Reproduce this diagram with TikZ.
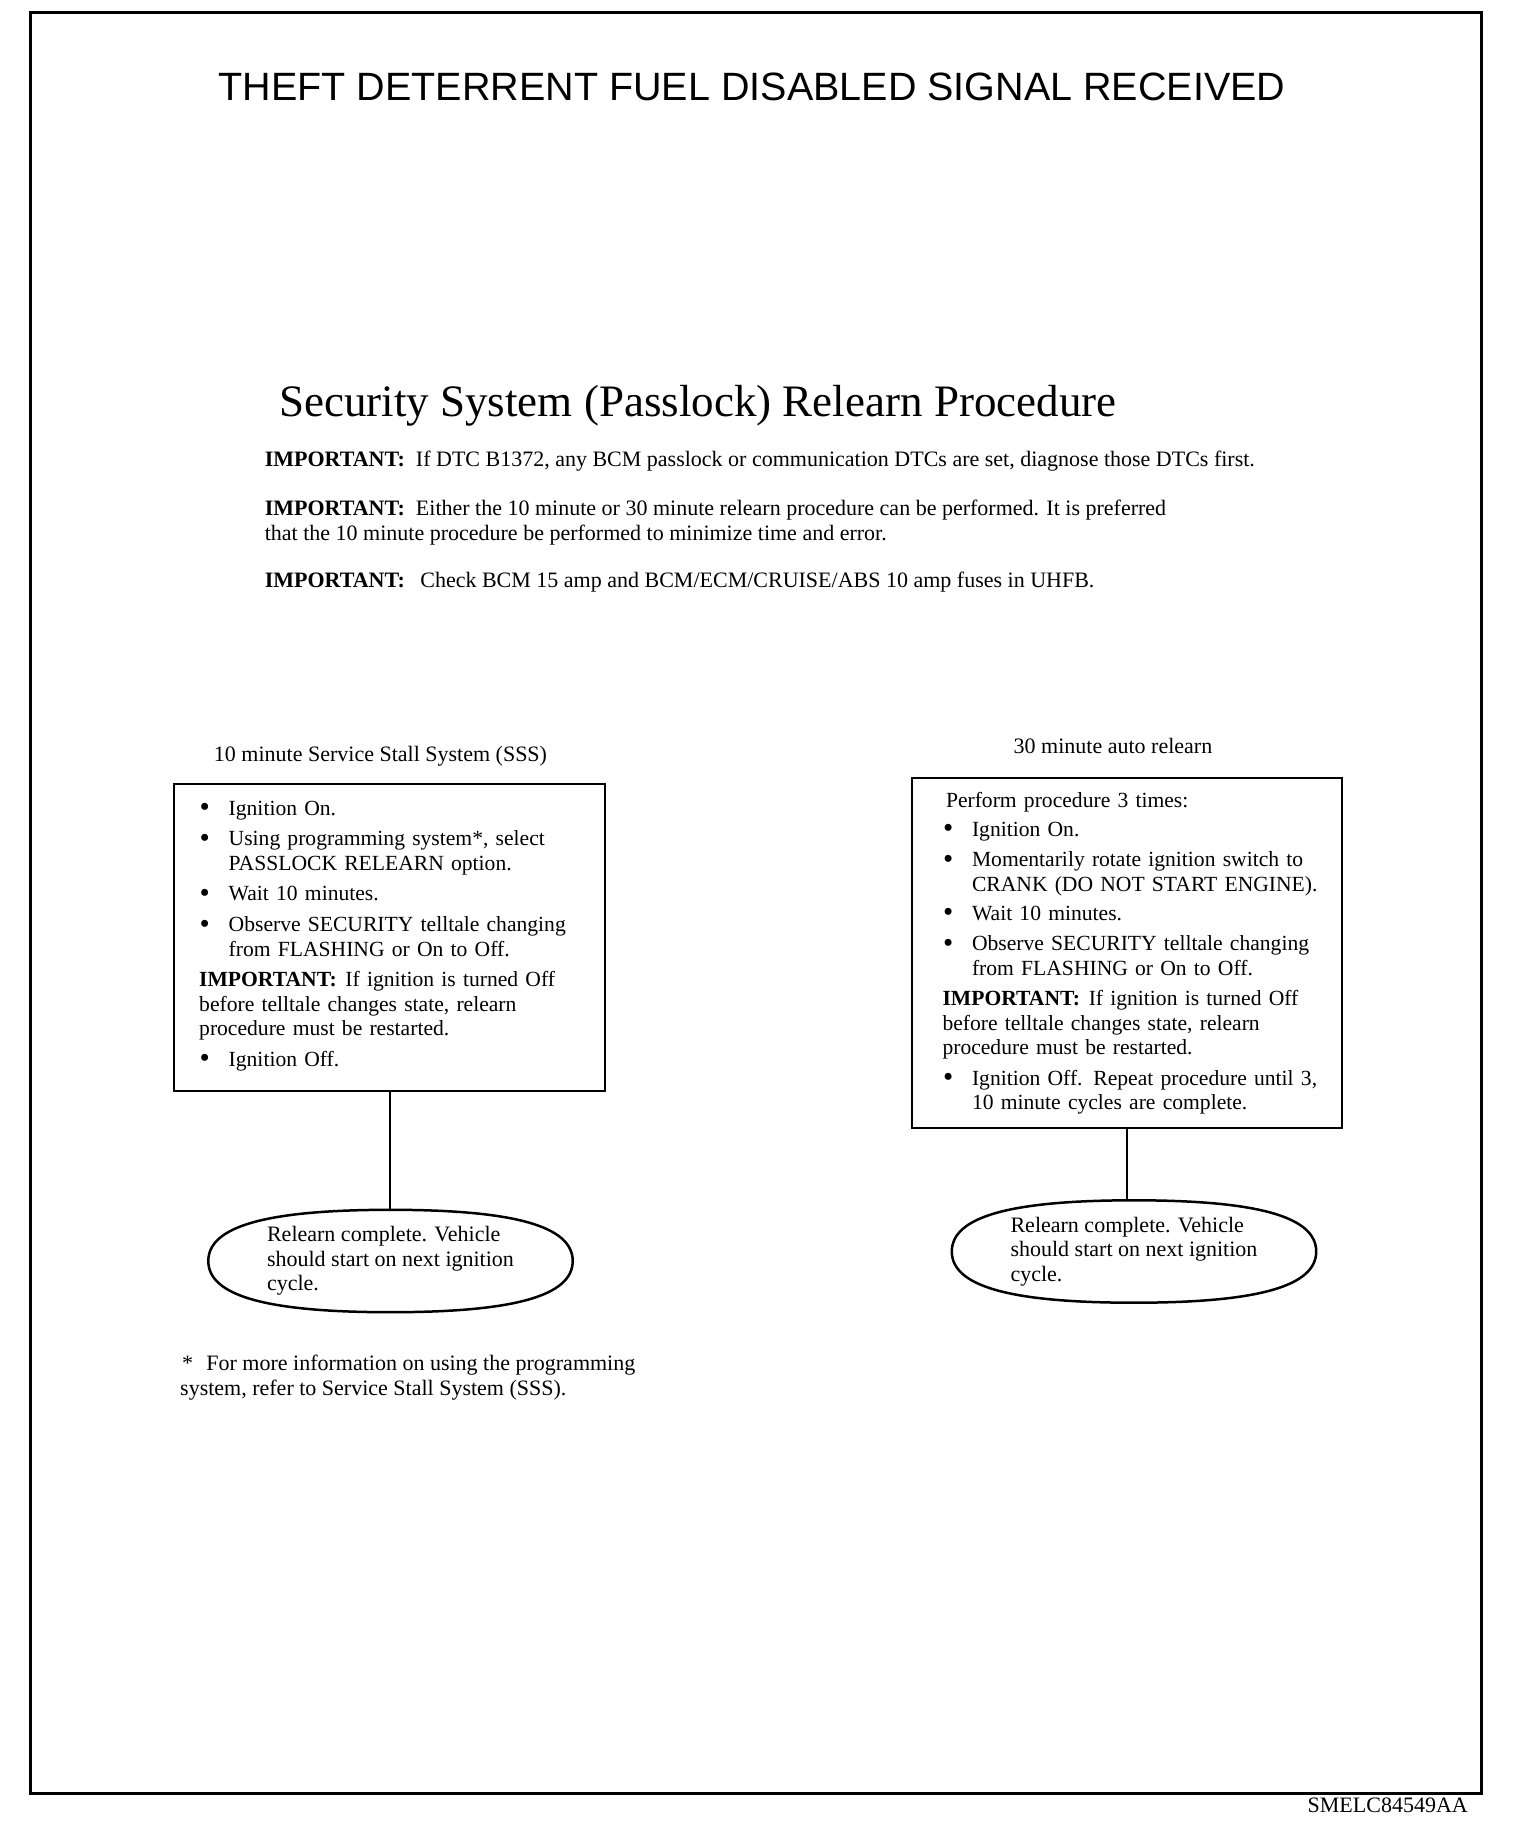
\documentclass[tikz,border=0pt]{standalone}
\usepackage{fontspec}
\setmainfont{Liberation Serif}
\newfontfamily\titlefont{Liberation Sans}
\usetikzlibrary{calc}
\newcommand{\bmark}{\makebox[29.5pt][l]{\hspace{0.5pt}\raisebox{-1.6pt}{\scalebox{1.35}{\textbullet}}}}
\newcommand{\bfirst}[1]{\noindent\hangindent=29.5pt\hangafter=1\bmark#1}
\newcommand{\bitem}[2][6.5pt]{\par\vspace{#1}\noindent\hangindent=29.5pt\hangafter=1\bmark#2}
\newcommand{\bpara}[2][6.5pt]{\par\vspace{#1}\noindent #2}
\newcommand{\ovalline}[2][0.68]{%
  \draw[ovalstroke] (#2.west)
   .. controls ($(#2.west)!#1!(#2.north west)$) and ($(#2.north)!#1!(#2.north west)$) .. (#2.north)
   .. controls ($(#2.north)!#1!(#2.north east)$) and ($(#2.east)!#1!(#2.north east)$) .. (#2.east)
   .. controls ($(#2.east)!#1!(#2.south east)$) and ($(#2.south)!#1!(#2.south east)$) .. (#2.south)
   .. controls ($(#2.south)!#1!(#2.south west)$) and ($(#2.west)!#1!(#2.south west)$) .. (#2.west) -- cycle;}
\tikzset{
  frame/.style={draw, line width=3pt},
  box/.style={draw, line width=2pt, inner sep=0pt},
  body/.style={font=\fontsize{22}{24.5}\selectfont, inner sep=0pt},
  boxtext/.style={font=\fontsize{21.6}{24.3}\selectfont, inner sep=0pt, text width=420pt, align=left},
  oval/.style={rectangle, inner sep=0pt, minimum width=364pt, minimum height=102pt,
     font=\fontsize{22}{24.5}\selectfont, align=left},
  ovalstroke/.style={line width=2.5pt, line join=round},
  link/.style={line width=1.6pt},
}
\begin{document}
\begin{tikzpicture}[x=1pt,y=-1pt]
\useasboundingbox (0,0) rectangle (1520,1836);
\draw[frame] (30,13) rectangle (1481,1793);

\node[font=\titlefont\fontsize{39.5}{44}\selectfont, inner sep=0pt, anchor=base] (title) at (752,100) {THEFT DETERRENT FUEL DISABLED SIGNAL RECEIVED};

\node[font=\fontsize{45}{50}\selectfont, inner sep=0pt, anchor=base west] (head) at (279,416.5) {Security System (Passlock) Relearn Procedure};

\node[body, anchor=base west] (imp1) at (264.6,466) {\textbf{IMPORTANT:}\hspace{0.5em}If DTC B1372, any BCM passlock or communication DTCs are set, diagnose those DTCs first.};
\node[body, anchor=base west, align=left] (imp2) at (264.6,540) {\textbf{IMPORTANT:}\hspace{0.5em}Either the 10 minute or 30 minute relearn procedure can be performed. It is preferred\\that the 10 minute procedure be performed to minimize time and error.};
\node[body, anchor=base west] (imp3) at (264.6,587) {\textbf{IMPORTANT:}\hspace{0.7em}Check BCM 15 amp and BCM/ECM/CRUISE/ABS 10 amp fuses in UHFB.};

% left column
\node[body, anchor=base] (llabel) at (380.5,761) {10 minute Service Stall System (SSS)};
\node[box, minimum width=431pt, minimum height=307pt, anchor=north west] (lbox) at (173.3,783) {};
\node[boxtext, anchor=base west] (ltext) at (199,815) {%
\bfirst{Ignition On.}
\bitem{Using programming system*, select\newline PASSLOCK RELEARN option.}
\bitem{Wait 10 minutes.}
\bitem{Observe SECURITY telltale changing\newline from FLASHING or On to Off.}
\bpara{\textbf{IMPORTANT:}\hspace{0.4em}If ignition is turned Off\newline before telltale changes state, relearn\newline procedure must be restarted.}
\bitem{Ignition Off.}\par};
\node[oval] (lend) at (390.5,1261) {Relearn complete. Vehicle\\should start on next ignition\\cycle.};
\ovalline{lend}
\draw[link] (lbox.south) -- (lbox.south |- lend.north);

\node[body, anchor=base west, align=left] (note) at (180,1395) {\hspace{2pt}*\hspace{0.6em}For more information on using the programming\\system, refer to Service Stall System (SSS).};

% right column
\node[body, anchor=base] (rlabel) at (1113,753) {30 minute auto relearn};
\node[box, minimum width=430pt, minimum height=350pt, anchor=north west] (rbox) at (911,777.3) {};
\node[boxtext, anchor=base west] (rtext) at (942.3,807.3) {%
\noindent\hspace{3.5pt}Perform procedure 3 times:
\bitem[4.5pt]{Ignition On.}
\bitem{Momentarily rotate ignition switch to\newline CRANK (DO NOT START ENGINE).}
\bitem[4.5pt]{Wait 10 minutes.}
\bitem{Observe SECURITY telltale changing\newline from FLASHING or On to Off.}
\bpara{\textbf{IMPORTANT:}\hspace{0.4em}If ignition is turned Off\newline before telltale changes state, relearn\newline procedure must be restarted.}
\bitem{Ignition Off. Repeat procedure until 3,\newline 10 minute cycles are complete.}\par};
\node[oval] (rend) at (1134,1251.5) {Relearn complete. Vehicle\\should start on next ignition\\cycle.};
\ovalline{rend}
\draw[link] (rbox.south) -- (rbox.south |- rend.north);

\node[font=\fontsize{22}{24}\selectfont, inner sep=0pt, anchor=base east] (code) at (1468,1812) {SMELC84549AA};
\end{tikzpicture}
\end{document}
